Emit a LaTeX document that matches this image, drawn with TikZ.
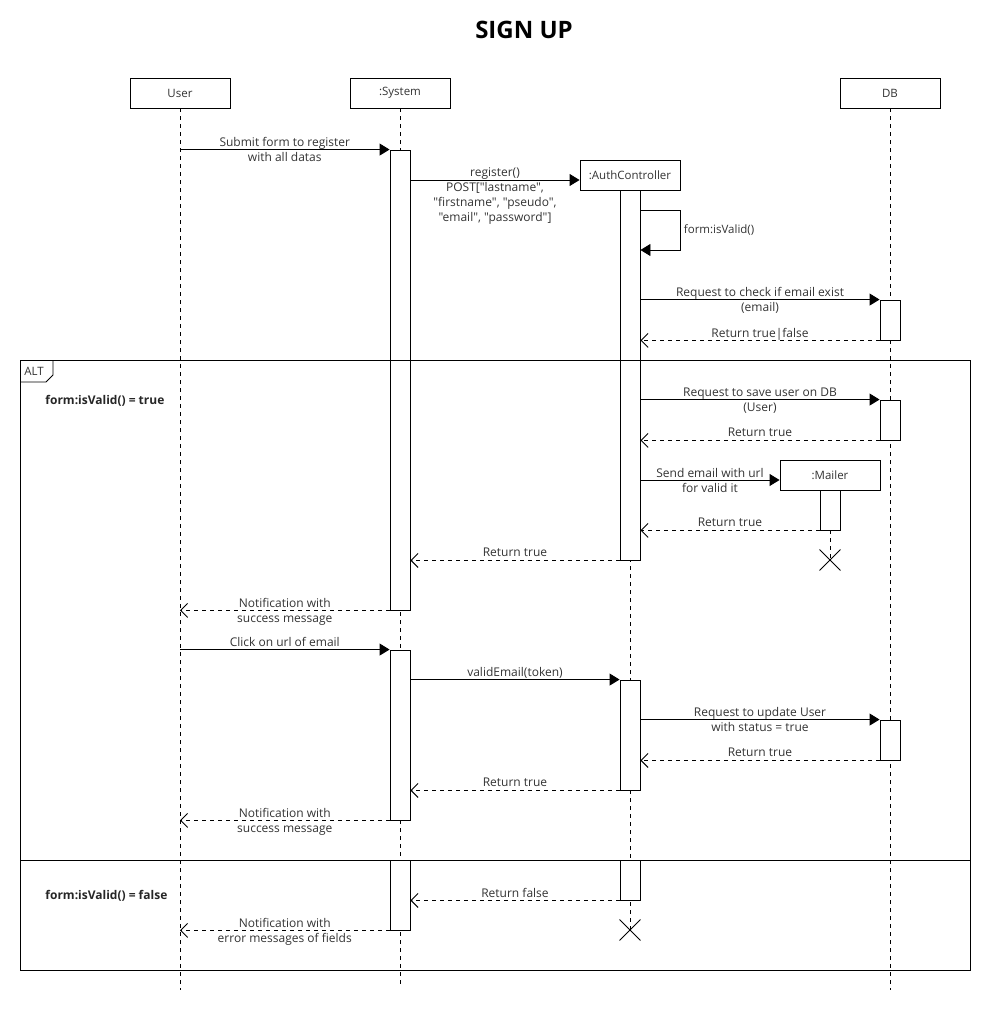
\documentclass[tikz,border=0pt]{standalone}
\usepackage{fontspec}
\newfontfamily\diafont{Open Sans}
\usetikzlibrary{arrows.meta,shapes.misc}
\tikzset{head/.style={draw, fill=white, minimum width=100pt, minimum height=30pt,
        inner sep=0pt, text=black!80},
    act/.style={draw, fill=white, minimum width=20pt, inner sep=0pt},
    life/.style={dash pattern=on 4pt off 4pt},
    msg/.style={-{Triangle[length=10pt,width=12pt]}},
    ret/.style={dash pattern=on 4pt off 4pt, -{Straight Barb[length=7pt,width=14pt]}},
    lbl/.style={midway, anchor=north, yshift=12.5pt, inner sep=0pt, align=center,
        text=black!80, font=\diafont\fontsize{12}{15}\selectfont},
    cond/.style={anchor=west, inner sep=0pt, font=\diafont\bfseries\fontsize{12}{14}\selectfont,
        text=black!85},
    endx/.style={draw, cross out, minimum size=20pt, inner sep=0pt},
    }

\begin{document}
\begin{tikzpicture}[x=1pt, y=-1pt, line width=0.9pt,
    font=\diafont\fontsize{11.5}{14}\selectfont]
	\useasboundingbox (0,0) rectangle (1000,1020);
	\node[font=\diafont\bfseries\fontsize{24}{28}\selectfont] (title) at (524,30) {SIGN UP};
	% lifelines
	\node[head] (user) at (180,93) {User};
	\node[head] (sys) at (400,93) {:System};
	\node[head] (db) at (890,93) {DB};
	\draw[life] (user.south) -- (user |- 0,990);
	\draw[life] (sys.south) -- (sys |- 0,988);
	\draw[life] (db.south) -- (db |- 0,990);
	\node[head] (auth) at (630,175) {:AuthController};
	\node[head] (mailer) at (830,475) {:Mailer};
	\node[endx] (mailX) at (830,560) {};
	\node[endx] (authX) at (630,930) {};
	\draw[life] (auth.south) -- (authX.center);
	\draw[life] (mailer.south) -- (mailX.center);
	% activations
	\node[act, minimum height=460pt] (sysA) at (400,380) {};
	\node[act, minimum height=170pt] (sysB) at (400,735) {};
	\node[act, minimum height=70pt] (sysC) at (400,895) {};
	\node[act, minimum height=370pt] (authA) at (630,375) {};
	\node[act, minimum height=110pt] (authB) at (630,735) {};
	\node[act, minimum height=40pt] (authC) at (630,880) {};
	\node[act, minimum height=40pt] (dbA) at (890,320) {};
	\node[act, minimum height=40pt] (dbB) at (890,420) {};
	\node[act, minimum height=40pt] (dbC) at (890,740) {};
	\node[act, minimum height=40pt] (mailA) at (830,510) {};
	% alt frame
	\draw (20,360) rectangle (970,970);
	\draw (20,860) -- (970,860);
	\draw (20,382) -- (46,382) -- (53,375) -- (53,360);
	\node[anchor=west, inner sep=0pt, text=black!80] (alt) at (24,371) {ALT};
	\node[cond] (condT) at (45,401) {form:isValid() = true};
	\node[cond] (condF) at (45,896) {form:isValid() = false};
	% messages
	\draw[msg] (user |- sysA.north) -- node[lbl]{Submit form to register\\with all datas} (sysA.north west);
	\draw[msg] (sysA.east |- 0,180) -- node[lbl]{register()\\POST["lastname",\\"firstname", "pseudo",\\"email", "password"]} (auth.west |- 0,180);
	\draw[msg] (authA.east |- 0,210) -- ++(40,0) -- node[right, inner sep=3pt, text=black!80]{form:isValid()} ++(0,40) -- (authA.east |- 0,250);
	\draw[msg] (authA.east |- dbA.north) -- node[lbl]{Request to check if email exist\\(email)} (dbA.north west);
	\draw[ret] (dbA.south west) -- node[lbl]{Return true|false} (authA.east |- dbA.south);
	\draw[msg] (authA.east |- dbB.north) -- node[lbl]{Request to save user on DB\\(User)} (dbB.north west);
	\draw[ret] (dbB.south west) -- node[lbl]{Return true} (authA.east |- dbB.south);
	\draw[msg] (authA.east |- 0,480) -- node[lbl]{Send email with url\\for valid it} (mailer.west |- 0,480);
	\draw[ret] (mailA.south west) -- node[lbl]{Return true} (authA.east |- mailA.south);
	\draw[ret] (authA.south west) -- node[lbl]{Return true} (sysA.east |- authA.south);
	\draw[ret] (sysA.south west) -- node[lbl]{Notification with\\success message} (user |- sysA.south);
	\draw[msg] (user |- sysB.north) -- node[lbl]{Click on url of email} (sysB.north west);
	\draw[msg] (sysB.east |- authB.north) -- node[lbl]{validEmail(token)} (authB.north west);
	\draw[msg] (authB.east |- dbC.north) -- node[lbl]{Request to update User\\with status = true} (dbC.north west);
	\draw[ret] (dbC.south west) -- node[lbl]{Return true} (authB.east |- dbC.south);
	\draw[ret] (authB.south west) -- node[lbl]{Return true} (sysB.east |- authB.south);
	\draw[ret] (sysB.south west) -- node[lbl]{Notification with\\success message} (user |- sysB.south);
	\draw[ret] (authC.south west) -- node[lbl]{Return false} (sysC.east |- authC.south);
	\draw[ret] (sysC.south west) -- node[lbl]{Notification with\\error messages of fields} (user |- sysC.south);
\end{tikzpicture}
\end{document}
